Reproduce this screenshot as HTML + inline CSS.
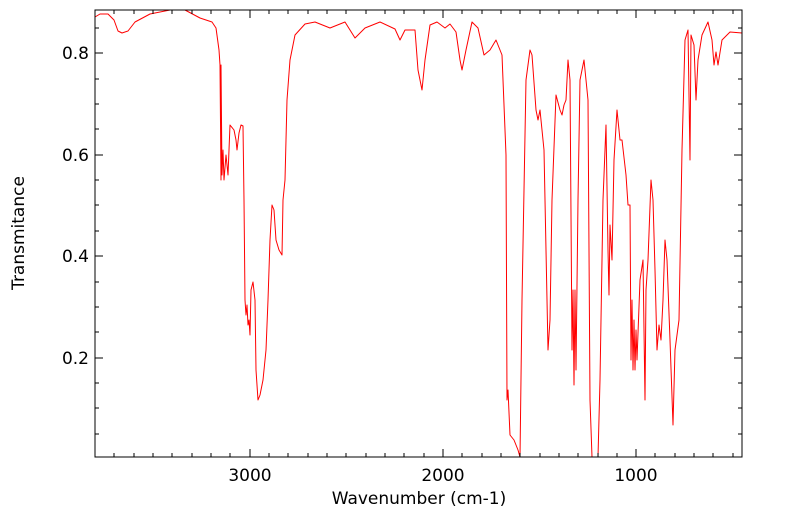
<!DOCTYPE html>
<html><head><style>
body{margin:0;background:#fff;}
svg text{font-family:"DejaVu Sans","Liberation Sans",sans-serif;fill:#000;}
</style></head><body>
<svg width="799" height="516" viewBox="0 0 799 516" xmlns="http://www.w3.org/2000/svg">
<rect width="799" height="516" fill="#fff"/>
<polyline fill="none" stroke="#ff0000" stroke-width="1" stroke-linejoin="round" points="95,17 100,14 108,14 114,20 118,31 122,33 128,31 135,22 150,14 170,10 185,10 200,18 212,22 216,28 219,50 220,65 221,180 221,65 222,175 223,150 224,180 226,155 228,175 230,125 234,130 236,140 237,150 239,133 241,125 243,126 244,200 245,300 246,315 247,305 248,325 249,320 250,335 251,290 253,282 255,300 256,370 258,400 260,395 263,380 266,350 268,300 270,240 272,205 274,210 276,240 279,250 282,255 283,200 285,180 287,100 290,60 295,35 305,24 315,22 330,28 345,22 355,38 365,28 380,22 395,29 400,40 405,30 415,30 418,70 422,90 425,60 430,25 437,22 445,28 450,24 456,32 460,60 462,70 466,50 472,22 478,28 484,55 490,50 496,40 502,55 506,155 507,400 508,390 510,435 514,440 518,450 520,457 522,300 526,80 530,50 532,55 536,110 538,120 540,110 544,150 548,350 550,320 552,200 556,95 560,110 562,115 564,105 566,100 568,60 570,80 572,350 573,290 574,385 575,290 576,370 578,200 580,80 584,60 588,100 590,400 592,457 598,457 600,380 603,200 606,125 608,250 609,295 610,225 612,260 614,160 617,110 620,140 622,140 626,175 628,205 630,205 631,360 632,300 633,370 634,320 635,370 636,330 637,360 640,280 643,260 645,400 646,290 648,260 651,180 653,200 655,270 657,350 659,325 661,340 663,300 665,240 667,260 670,340 673,425 675,350 679,320 682,150 685,40 688,30 690,160 691,35 694,45 696,100 698,60 702,35 708,22 712,40 714,65 716,52 718,65 722,40 730,32 742,33"/>
<rect x="95" y="10" width="647" height="447" fill="none" stroke="#000" stroke-width="1"/>
<g stroke="#000" stroke-width="1">
<line x1="250" y1="457" x2="250" y2="449"/><line x1="443" y1="457" x2="443" y2="449"/><line x1="636" y1="457" x2="636" y2="449"/>
<line x1="250" y1="10" x2="250" y2="18"/><line x1="443" y1="10" x2="443" y2="18"/><line x1="636" y1="10" x2="636" y2="18"/>
</g>
<g stroke="#000" stroke-width="1">
<path d="M114 457v-4M134 457v-4M153 457v-4M172 457v-4M192 457v-4M211 457v-4M230 457v-4M269 457v-4M288 457v-4M308 457v-4M327 457v-4M346 457v-4M366 457v-4M385 457v-4M404 457v-4M424 457v-4M462 457v-4M482 457v-4M501 457v-4M520 457v-4M540 457v-4M559 457v-4M578 457v-4M598 457v-4M617 457v-4M655 457v-4M675 457v-4M694 457v-4M713 457v-4M733 457v-4"/>
<path d="M114 10v4M134 10v4M153 10v4M172 10v4M192 10v4M211 10v4M230 10v4M269 10v4M288 10v4M308 10v4M327 10v4M346 10v4M366 10v4M385 10v4M404 10v4M424 10v4M462 10v4M482 10v4M501 10v4M520 10v4M540 10v4M559 10v4M578 10v4M598 10v4M617 10v4M655 10v4M675 10v4M694 10v4M713 10v4M733 10v4"/>
<path d="M95 53h8M95 155h8M95 256h8M95 358h8M742 53h-8M742 155h-8M742 256h-8M742 358h-8"/>
<path d="M95 28h4M95 79h4M95 104h4M95 129h4M95 180h4M95 205h4M95 231h4M95 282h4M95 307h4M95 332h4M95 383h4M95 408h4M95 434h4"/>
<path d="M742 28h-4M742 79h-4M742 104h-4M742 129h-4M742 180h-4M742 205h-4M742 231h-4M742 282h-4M742 307h-4M742 332h-4M742 383h-4M742 408h-4M742 434h-4"/>
</g>
<g font-size="17" text-anchor="end">
<text x="89" y="59">0.8</text><text x="89" y="161">0.6</text><text x="89" y="262">0.4</text><text x="89" y="364">0.2</text>
</g>
<g font-size="17" text-anchor="middle">
<text x="250" y="481">3000</text><text x="443" y="481">2000</text><text x="636" y="481">1000</text>
<text x="419" y="504">Wavenumber (cm-1)</text>
<text transform="translate(24,233) rotate(-90)">Transmitance</text>
</g>
</svg>
</body></html>
